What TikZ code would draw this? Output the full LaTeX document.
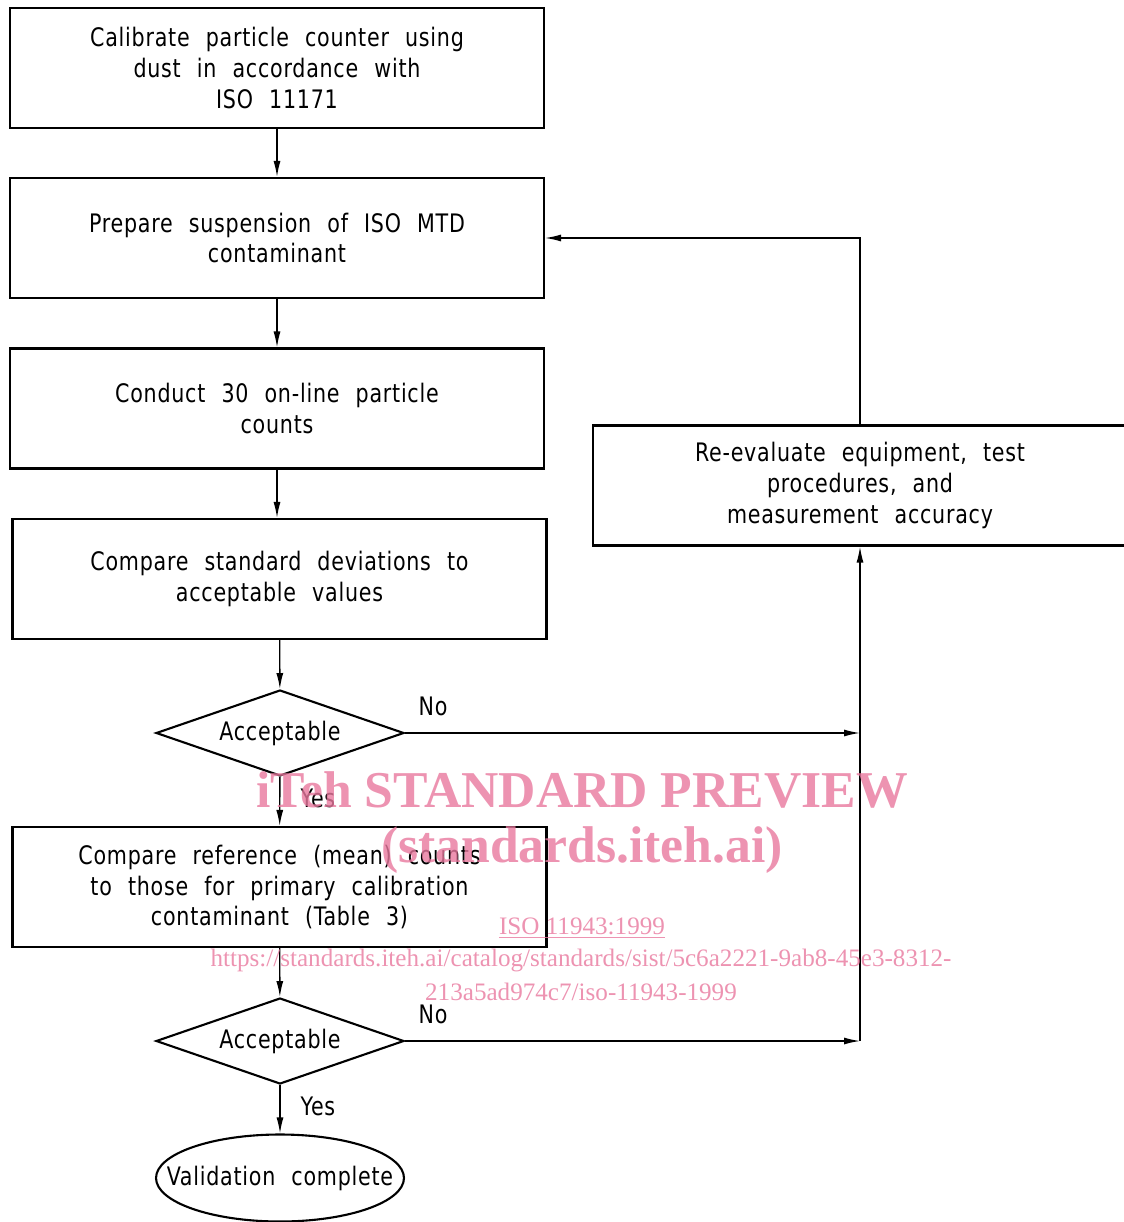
\documentclass[tikz,border=0pt]{standalone}
\usepackage{fontspec}
\setmainfont{DejaVu Sans Condensed}[WordSpace=2.2,FakeStretch=0.9,LetterSpace=3]
\newfontfamily\wmfont{Liberation Serif}
\usetikzlibrary{shapes.geometric,arrows.meta}
\definecolor{wmpink}{RGB}{232,120,158}
\tikzset{
  stepbox/.style={draw,line width=1.2pt,minimum width=10.68cm,minimum height=2.4cm,align=center,font=\fontsize{14.5}{17.6}\selectfont},
  decide/.style={draw,diamond,line width=1.2pt,shape aspect=2.88,inner sep=0pt,minimum width=4.96cm,minimum height=1.72cm,font=\fontsize{14.5}{17.6}\selectfont},
  finish/.style={draw,ellipse,line width=1.2pt,inner sep=0pt,minimum width=4.96cm,minimum height=1.74cm,font=\fontsize{14.5}{17.6}\selectfont},
  flow/.style={line width=0.8pt,-{Latex[length=0.32cm,width=0.14cm]}},
  tag/.style={font=\fontsize{14.5}{17.6}\selectfont},
  wm/.style={text=wmpink,text opacity=0.8,align=center}
}
\begin{document}
\begin{tikzpicture}[x=0.02cm,y=-0.02cm]
        \useasboundingbox (0,0) rectangle (1123,1222);
        \node[stepbox] (calib) at (277,68) {Calibrate particle counter using\\dust in accordance with\\ISO 11171};
        \node[stepbox] (prep) at (277,238) {Prepare suspension of ISO MTD\\contaminant};
        \node[stepbox] (count) at (277,408.5) {Conduct 30 on-line particle\\counts};
        \node[stepbox] (compare) at (279.5,579) {Compare standard deviations to\\acceptable values};
        \node[decide] (acc1) at (280,733) {Acceptable};
        \node[stepbox] (ref) at (279.5,887) {Compare reference (mean) counts\\to those for primary calibration\\contaminant (Table 3)};
        \node[decide] (acc2) at (280,1041) {Acceptable};
        \node[finish] (done) at (280,1178) {\makebox[0pt]{Validation complete}};
        \node[stepbox] (reeval) at (860,485.5) {Re-evaluate equipment, test\\procedures, and\\measurement accuracy};
        \coordinate (j1) at (860,733);
        \coordinate (j2) at (860,1041);
        \draw[flow] (calib) -- (prep);
        \draw[flow] (prep) -- (count);
        \draw[flow] (count.south) -- (count.south |- compare.north);
        \draw[flow] (compare) -- (acc1);
        \draw[flow] (acc1) -- (ref);
        \draw[flow] (ref) -- (acc2);
        \draw[flow] (acc2) -- (done);
        \draw[flow] (acc1.east) -- (j1);
        \draw[flow] (acc2.east) -- (j2);
        \draw[flow] (j2) -- (reeval.south);
        \draw[flow] (reeval.north) |- (prep.east);
        \node[tag] (no1) at (433,706) {No};
        \node[tag] (no2) at (433,1014) {No};
        \node[tag] (yes1) at (318,798) {Yes};
        \node[tag] (yes2) at (318,1106) {Yes};
        \node[wm,font=\wmfont\bfseries\fontsize{29.4}{33}\selectfont] (wm1) at (582,790) {iTeh STANDARD PREVIEW};
        \node[wm,font=\wmfont\bfseries\fontsize{29.4}{33}\selectfont] (wm2) at (582,850) {(standards.iteh.ai)};
        \node[wm,font=\wmfont\fontsize{14.3}{17}\selectfont] (wm3) at (582,928) {\underline{ISO 11943:1999}};
        \node[wm,font=\wmfont\fontsize{14.3}{17}\selectfont] (wm4) at (581,960) {https://standards.iteh.ai/catalog/standards/sist/5c6a2221-9ab8-45e3-8312-};
        \node[wm,font=\wmfont\fontsize{14.3}{17}\selectfont] (wm5) at (581,992) {213a5ad974c7/iso-11943-1999};
    \end{tikzpicture}
\end{document}
